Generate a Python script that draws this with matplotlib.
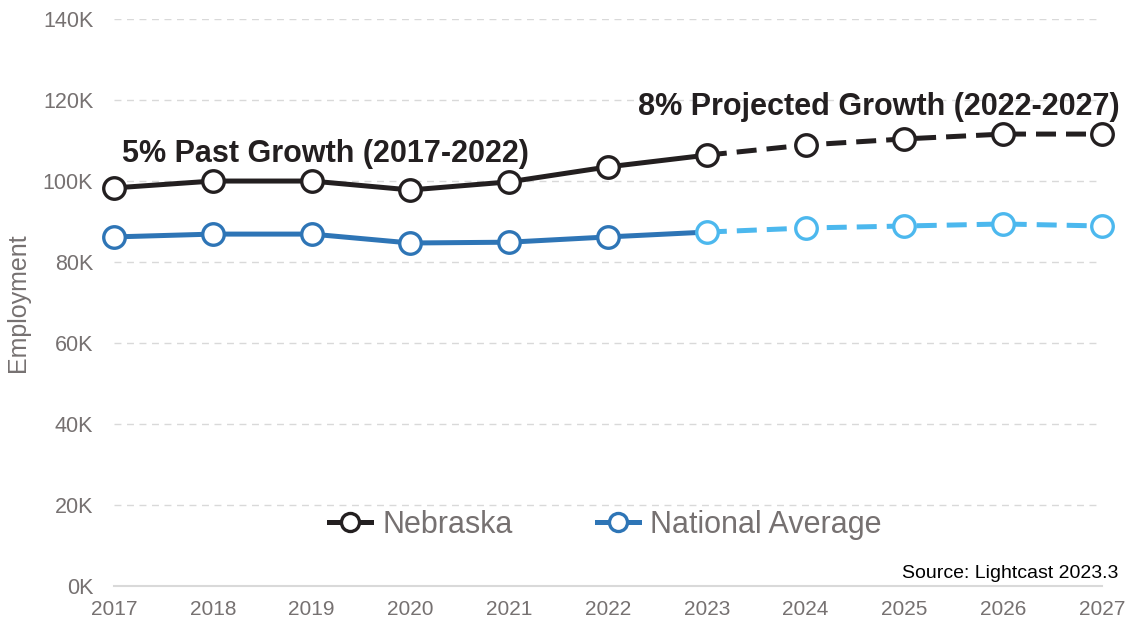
import matplotlib.pyplot as plt
from matplotlib.lines import Line2D
from matplotlib.ticker import FuncFormatter

plt.rcParams['font.family'] = ['Liberation Sans', 'DejaVu Sans']

years = [2017, 2018, 2019, 2020, 2021, 2022, 2023, 2024, 2025, 2026, 2027]
nebraska = [98.3, 100.0, 100.0, 97.8, 99.8, 103.5, 106.4, 108.9, 110.4, 111.6, 111.6]
national = [86.2, 86.9, 86.9, 84.7, 84.9, 86.2, 87.4, 88.4, 88.9, 89.4, 88.9]
split = 6  # index of 2023, where projection starts

dark = '#231f20'
blue = '#2e75b6'
light = '#4cb8ee'
gray = '#767171'

fig = plt.figure(figsize=(11.31, 6.23), dpi=100)
ax = fig.add_axes([0.1008, 0.0594, 0.8736, 0.910])

lw = 3.6
ms = 15.5
mew = 2.4
dash = (0, (4, 2))

# nebraska
ax.plot(years[:split + 1], nebraska[:split + 1], color=dark, lw=lw, zorder=3)
ax.plot(years[split:], nebraska[split:], color=dark, lw=lw, ls=dash, zorder=3)
ax.plot(years, nebraska, ls='none', marker='o', ms=ms, mfc='white', mec=dark, mew=mew,
        zorder=4, clip_on=False)

# national
ax.plot(years[:split + 1], national[:split + 1], color=blue, lw=lw, zorder=3)
ax.plot(years[split:], national[split:], color=light, lw=lw, ls=dash, zorder=3)
ax.plot(years[:split], national[:split], ls='none', marker='o', ms=ms, mfc='white', mec=blue,
        mew=mew, zorder=4, clip_on=False)
ax.plot(years[split:], national[split:], ls='none', marker='o', ms=ms, mfc='white', mec=light,
        mew=mew, zorder=4, clip_on=False)

ax.set_xlim(2017, 2027)
ax.set_ylim(0, 140)
ax.set_xticks(years)
ax.set_yticks(range(0, 141, 20))
ax.yaxis.set_major_formatter(FuncFormatter(lambda v, p: '%dK' % v))
ax.tick_params(axis='x', length=0, labelsize=15, colors=gray, pad=10)
ax.tick_params(axis='y', length=0, labelsize=15.5, colors=gray, pad=15)
ax.grid(axis='y', color='#d9d9d9', ls=(0, (5, 4)), lw=1)
for s in ['top', 'right', 'left']:
    ax.spines[s].set_visible(False)
ax.spines['bottom'].set_color('#d9d9d9')
ax.spines['bottom'].set_linewidth(1.5)
ax.set_ylabel('Employment', color=gray, fontsize=18)
ax.yaxis.set_label_coords(-0.085, 0.5)

ax.text(2017.08, 106.6, '5% Past Growth (2017-2022)', fontsize=22, fontweight='bold',
        color=dark, va='center', ha='left')
ax.text(2027.18, 118.4, '8% Projected Growth (2022-2027)', fontsize=22, fontweight='bold',
        color=dark, va='center', ha='right')

ax.text(2027.17, 3.2, 'Source: Lightcast 2023.3', fontsize=14, color='black',
        ha='right', va='center')

handles = [
    Line2D([], [], color=dark, lw=lw, marker='o', ms=13, mfc='white', mec=dark, mew=mew),
    Line2D([], [], color=blue, lw=lw, marker='o', ms=13, mfc='white', mec=blue, mew=mew),
]
leg = ax.legend(handles, ['Nebraska', 'National Average'], loc='center',
                bbox_to_anchor=(0.497, 0.108), ncol=2, frameon=False, fontsize=22,
                handlelength=1.4, handletextpad=0.35, columnspacing=2.75)
for t in leg.get_texts():
    t.set_color(gray)

fig.savefig('out.png', dpi=100)
